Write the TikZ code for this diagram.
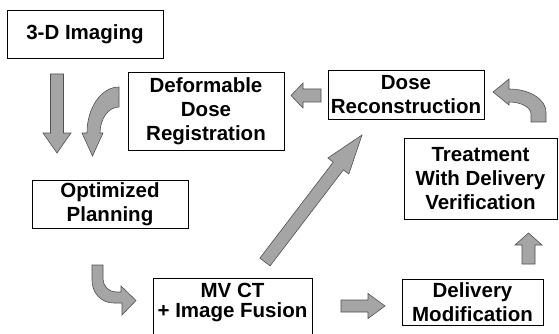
\documentclass[tikz,border=0pt]{standalone}
\usepackage{fontspec}
\setmainfont{Liberation Sans}
\usetikzlibrary{calc}
\definecolor{arrgray}{RGB}{165,165,165}
\definecolor{arredge}{RGB}{80,80,80}
\tikzset{
  box/.style={draw=black, line width=0.8pt, fill=white, inner sep=0pt, align=center,
    font=\bfseries\fontsize{20.5}{24}\selectfont},
  lbl/.style={inner sep=0pt, align=center, font=\bfseries\fontsize{20.5}{20}\selectfont},
  blk/.style={fill=arrgray, draw=arredge, line width=0.6pt, line join=miter},
}
% block arrow: start, tip, shaft half width, head half width, head length
\newcommand\blockarr[5]{%
  \coordinate (hb) at ($(#2)!#5!(#1)$);
  \path[blk] ($(#1)!#3!90:(#2)$) -- ($(hb)!#3!90:(#2)$) -- ($(hb)!#4!90:(#2)$) -- (#2)
    -- ($(hb)!#4!-90:(#2)$) -- ($(hb)!#3!-90:(#2)$) -- ($(#1)!#3!-90:(#2)$) -- cycle;}
\begin{document}
\begin{tikzpicture}[x=1pt, y=-1pt]
  \useasboundingbox (0,0) rectangle (559,334);
  \clip (0,0) rectangle (559,334);
  \fill[white] (0,0) rectangle (559,334);

  % boxes
  \node[box, minimum width=156pt, minimum height=48pt] (img) at (85,34) {3-D Imaging};
  \node[box, minimum width=156pt, minimum height=78pt] (ddr) at (206,111) {Deformable\\Dose\\Registration};
  \node[box, minimum width=156pt, minimum height=49pt] (drec) at (406,94.5) {Dose\\Reconstruction};
  \node[box, minimum width=153pt, minimum height=81pt] (treat) at (480.5,178.5) {Treatment\\With Delivery\\Verification};
  \node[box, minimum width=156pt, minimum height=48pt] (opt) at (110,204) {Optimized\\Planning};
  \node[box, minimum width=159pt, minimum height=62pt] (mvct) at (232.5,309) {};
  \node[lbl] (mvcttext) at (mvct.center |- 0,303) {MV CT\\+ Image Fusion};
  \node[box, minimum width=141pt, minimum height=46pt] (dmod) at (472.5,302) {Delivery\\Modification};

  % straight block arrows
  \coordinate (a1) at (57,74);    \coordinate (a2) at (57,153);
  \blockarr{a1}{a2}{6.5pt}{14pt}{20pt}
  \coordinate (b1) at (321,95.5); \coordinate (b2) at (291,95.5);
  \blockarr{b1}{b2}{6.5pt}{12.5pt}{12pt}
  \coordinate (c1) at (265,262);  \coordinate (c2) at (362,135);
  \blockarr{c1}{c2}{6.4pt}{13.2pt}{39pt}
  \coordinate (d1) at (341,306);  \coordinate (d2) at (385,306);
  \blockarr{d1}{d2}{6pt}{12.5pt}{17pt}
  \coordinate (e1) at (528.5,264); \coordinate (e2) at (528.5,233);
  \blockarr{e1}{e2}{6.5pt}{13.5pt}{12pt}

  % curved block arrows
  \path[blk] (119,87) -- (119,107) .. controls (108.5,107) and (100,118.6) .. (100,133)
    -- (103,133) -- (92.5,156) -- (82,133) -- (87,133)
    .. controls (87,107.6) and (101.3,87) .. (119,87) -- cycle;
  \path[blk] (546,122) -- (546,112) .. controls (546,99.3) and (529.4,89) .. (509,89)
    -- (509,79) -- (493,92) -- (509,105) -- (509,102)
    .. controls (521.1,102) and (531,107.4) .. (531,114) -- (531,122) -- cycle;
  \path[blk] (92,265) -- (103,265) -- (103,279) .. controls (103,286) and (109,292) .. (116,292)
    -- (121,292) -- (121,286) -- (136,300.5) -- (122,315) -- (122,303) -- (114,303)
    .. controls (101,303) and (92,293) .. (92,280) -- cycle;
\end{tikzpicture}
\end{document}
